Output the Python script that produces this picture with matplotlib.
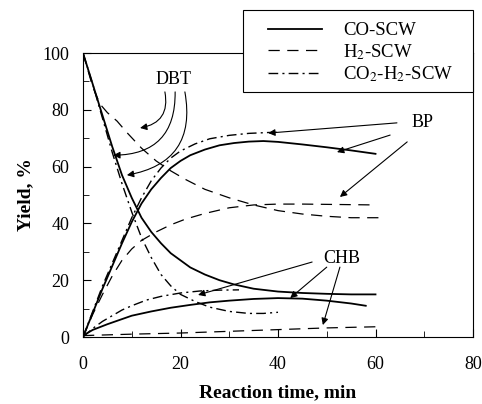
import matplotlib
matplotlib.use("Agg")
import matplotlib.pyplot as plt
from matplotlib.patches import Rectangle
from matplotlib.ticker import MultipleLocator

plt.rcParams["font.family"] = "Liberation Serif"
plt.rcParams["mathtext.fontset"] = "stix"

# CO-SCW (solid)
co_dbt_x = [0, 2, 4, 6, 8, 10, 12, 14, 16, 18, 20, 22, 25, 28, 31, 35, 40, 45, 50, 55, 60]
co_dbt_y = [100, 89, 78, 67, 57, 49, 42, 37, 33, 29.5, 27, 24.5, 22, 20, 18.5, 17, 16, 15.5, 15.2, 15, 15]
co_bp_x = [0, 2, 4, 6, 8, 10, 12, 14, 16, 18, 20, 22, 25, 28, 31, 34, 37, 40, 45, 50, 55, 60]
co_bp_y = [0, 8.5, 17, 25, 33, 40.5, 47, 52, 56, 59.5, 62, 64, 66, 67.5, 68.3, 68.8, 69, 68.7, 67.8, 66.8, 65.7, 64.5]
co_chb_x = [0, 2, 5, 8, 10, 14, 18, 22, 26, 30, 35, 40, 45, 50, 55, 58]
co_chb_y = [0.5, 2.5, 4.5, 6.3, 7.5, 9, 10.3, 11.3, 12.2, 12.8, 13.4, 13.7, 13.5, 12.8, 11.8, 11]

# H2-SCW (dashed)
h2_dbt_x = [0, 1, 2, 3.5, 5, 7, 9, 12, 15, 18, 21, 25, 30, 35, 40, 45, 50, 55, 61]
h2_dbt_y = [100, 94, 88, 82, 79, 76, 72, 66.5, 62, 58.5, 55.5, 52, 49, 46.5, 44.5, 43.3, 42.5, 42, 42]
h2_bp_x = [0, 2, 4, 6, 8, 10, 12, 15, 18, 21, 25, 30, 35, 40, 45, 50, 55, 60]
h2_bp_y = [0, 8, 15, 21.5, 27, 31, 34, 37, 39.5, 41.5, 43.5, 45.5, 46.5, 46.8, 46.8, 46.7, 46.6, 46.5]
h2_chb_x = [0, 10, 20, 30, 40, 50, 60]
h2_chb_y = [0.5, 1, 1.4, 2, 2.6, 3.2, 3.6]

# CO2-H2-SCW (dash-dot)
co2_dbt_x = [0, 2, 4, 6, 8, 10, 12, 14, 16, 18, 20, 23, 26, 30, 34, 37, 40]
co2_dbt_y = [100, 89, 77, 65, 54, 44, 35, 28, 22, 18, 15, 12.5, 10.5, 9, 8.3, 8.3, 8.7]
co2_bp_x = [0, 2, 4, 6, 8, 10, 12, 14, 16, 18, 20, 23, 26, 30, 34, 38, 40]
co2_bp_y = [0, 9, 18, 26, 34, 42, 49, 55, 59.5, 63, 65.5, 68, 69.8, 71, 71.7, 72, 72.1]
co2_chb_x = [0, 2, 4, 6, 8, 10, 13, 16, 20, 24, 28, 32]
co2_chb_y = [0, 3, 5.5, 7.5, 9.5, 11, 13, 14.3, 15.5, 16.2, 16.5, 16.6]

series_labels = ["CO-SCW", "H$_2$-SCW", "CO$_2$-H$_2$-SCW"]

fig = plt.figure(figsize=(4.82, 4.04), dpi=100)
ax = fig.add_axes([83 / 482, 1 - 337 / 404, 390 / 482, 284 / 404])

solid = dict(color="k", lw=1.3, ls="-")
dashed = dict(color="k", lw=0.9, ls=(0, (9, 6)))
dashdot = dict(color="k", lw=1.0, ls=(0, (7, 3, 1.5, 3)))

l1, = ax.plot(co_dbt_x, co_dbt_y, **solid)
ax.plot(co_bp_x, co_bp_y, **solid)
ax.plot(co_chb_x, co_chb_y, **solid)
l2, = ax.plot(h2_dbt_x, h2_dbt_y, **dashed)
ax.plot(h2_bp_x, h2_bp_y, **dashed)
ax.plot(h2_chb_x, h2_chb_y, **dashed)
l3, = ax.plot(co2_dbt_x, co2_dbt_y, **dashdot)
ax.plot(co2_bp_x, co2_bp_y, **dashdot)
ax.plot(co2_chb_x, co2_chb_y, **dashdot)

ax.set_xlim(0, 80)
ax.set_ylim(0, 100)
ax.xaxis.set_major_locator(MultipleLocator(20))
ax.xaxis.set_minor_locator(MultipleLocator(10))
ax.yaxis.set_major_locator(MultipleLocator(20))
ax.yaxis.set_minor_locator(MultipleLocator(10))
ax.tick_params(which="both", direction="in", labelsize=13)
ax.tick_params(which="major", length=6)
ax.tick_params(which="minor", length=4)
ax.tick_params(axis="x", pad=14)
ax.tick_params(axis="y", pad=10)
ax.set_xlabel("Reaction time, min", fontsize=14, fontweight="bold", labelpad=8)
ax.set_ylabel("Yield, %", fontsize=14, fontweight="bold", labelpad=6)

arrow = dict(arrowstyle="-|>", color="k", lw=0.8, mutation_scale=10, shrinkA=0, shrinkB=0)

# DBT labels with curved arrows
ax.text(18.5, 90.5, "DBT", fontsize=13, ha="center", va="center")
for start, end in [((16.8, 86.3), (11.7, 73.6)), ((18.9, 86.3), (6.2, 64)), ((20.9, 86.3), (9, 57))]:
    ax.annotate("", xy=end, xytext=start,
                arrowprops=dict(arrow, connectionstyle="arc3,rad=-0.5"))

# BP
ax.text(69.7, 75.4, "BP", fontsize=13, ha="center", va="center")
for start, end in [((64.4, 75.4), (38, 71.8)), ((63, 71.1), (52.1, 65.1)), ((66.5, 68.7), (52.7, 49.3))]:
    ax.annotate("", xy=end, xytext=start, arrowprops=arrow)

# CHB
ax.text(53.1, 27.8, "CHB", fontsize=13, ha="center", va="center")
for start, end in [((47, 26.4), (23.6, 14.8)), ((50, 24.6), (42.5, 13.7)), ((52.7, 24.6), (49.2, 4.2))]:
    ax.annotate("", xy=end, xytext=start, arrowprops=arrow)

# legend frame drawn separately so it can be wider than its content
frame = Rectangle((243 / 482, 1 - 92 / 404), 230 / 482, 82 / 404, transform=fig.transFigure,
                  facecolor="white", edgecolor="k", lw=0.8, zorder=4)
fig.patches.append(frame)

leg = fig.legend([l1, l2, l3], series_labels,
                 loc="upper left", bbox_to_anchor=(268 / 482, 1 - 22 / 404),
                 fontsize=13.5, frameon=False,
                 handlelength=2.9, handletextpad=1.1, borderpad=0,
                 labelspacing=0.15, borderaxespad=0)
leg.set_zorder(5)

fig.savefig("out.png", dpi=100)
